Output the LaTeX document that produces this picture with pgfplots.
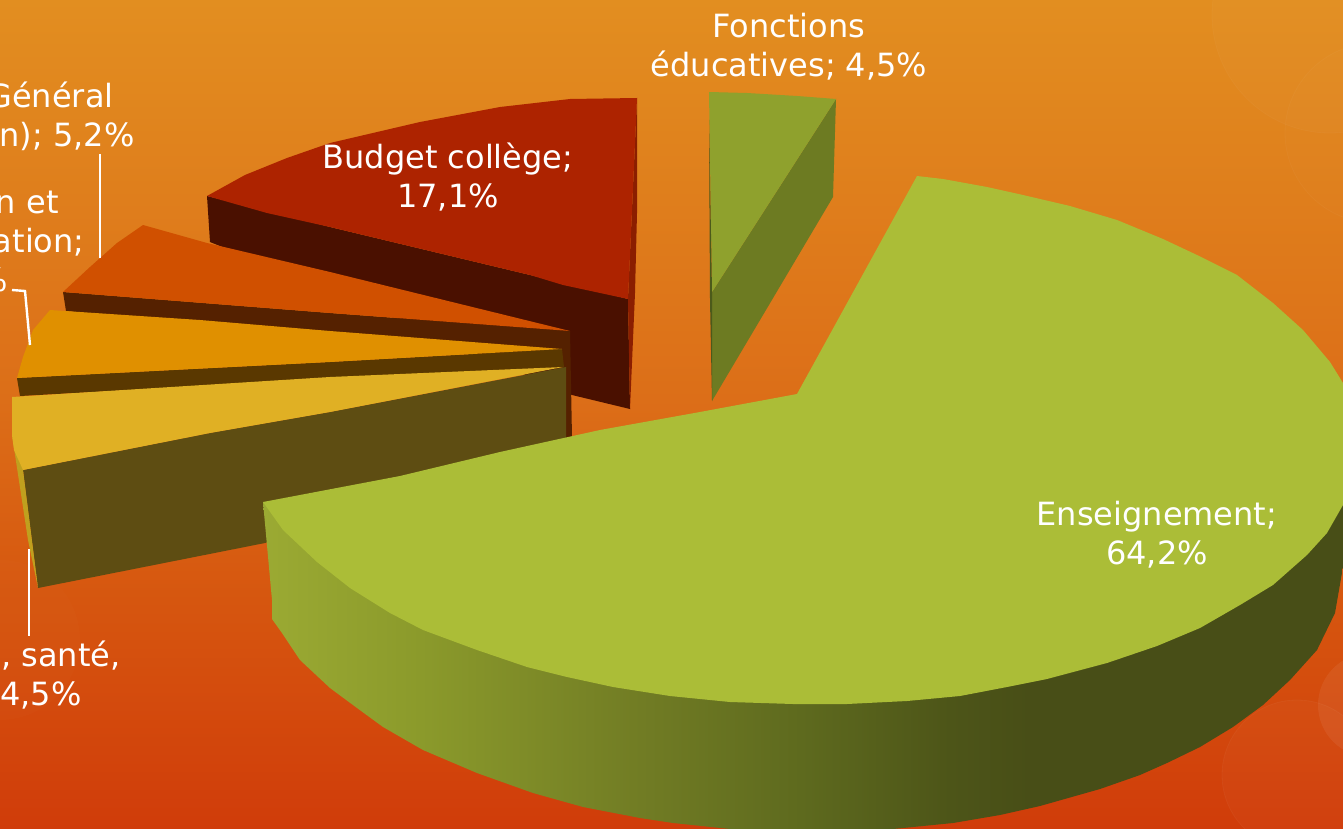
\documentclass[border=0pt]{standalone}
\usepackage{fontspec}
\setmainfont{DejaVu Sans}
\usepackage{pgfplots}
\pgfplotsset{compat=1.18}
% slide background, top to bottom
\definecolor{bgA}{HTML}{D03C0A}
\definecolor{bgB}{HTML}{D6560F}
\definecolor{bgC}{HTML}{DC6E18}
\definecolor{bgD}{HTML}{E28E20}
\pgfdeclareverticalshading{bgv}{100bp}{color(0bp)=(bgA); color(25bp)=(bgA); color(38.8bp)=(bgB); color(50.9bp)=(bgC); color(75bp)=(bgD); color(100bp)=(bgD)}
% rim of the big slice, left to right
\definecolor{rimA}{HTML}{9BAA33}
\definecolor{rimB}{HTML}{8B9A2B}
\definecolor{rimC}{HTML}{717C24}
\definecolor{rimD}{HTML}{5E6A1E}
\definecolor{rimE}{HTML}{4D5518}
\definecolor{rimF}{HTML}{484E17}
\pgfdeclarehorizontalshading{rimh}{100bp}{color(0bp)=(rimA); color(25bp)=(rimA); color(32.3bp)=(rimB); color(42.5bp)=(rimC); color(49.9bp)=(rimD); color(56.8bp)=(rimE); color(60.5bp)=(rimF); color(100bp)=(rimF)}
\tikzset{lab/.style={text=white, font=\fontsize{16}{19.5}\selectfont, align=center},
         frag/.style={text=white, font=\fontsize{16}{19.5}\selectfont, anchor=base east, inner sep=0pt}}
\begin{document}
\begin{tikzpicture}
\begin{axis}[
    name=ax,
    scale only axis, width=671.5pt, height=414.5pt,
    xmin=0, xmax=1343, ymin=0, ymax=829,
    y dir=reverse,
    hide axis,
    clip=true,
]
% background
\addplot[draw=none, shading=bgv] coordinates {(0,0)(1343,0)(1343,829)(0,829)} --cycle;
\fill[white, opacity=0.02] (axis cs:1330,15) circle[radius=59pt];
\draw[white, opacity=0.03] (axis cs:1330,15) circle[radius=59pt];
\fill[white, opacity=0.012] (axis cs:1375,133) circle[radius=45pt];
\draw[white, opacity=0.03] (axis cs:1375,133) circle[radius=45pt];
\fill[white, opacity=0.025] (axis cs:1297,775) circle[radius=37.5pt];
\draw[white, opacity=0.04] (axis cs:1297,775) circle[radius=37.5pt];
\fill[white, opacity=0.012] (axis cs:0,640) circle[radius=40pt];
\fill[white, opacity=0.06] (axis cs:1370,705) circle[radius=26pt];

% Fonctions educatives
\addplot[draw=none, fill={rgb,255:red,109;green,123;blue,34}] coordinates {(836,99)(833,197)(712,401)(712,292)} --cycle;
\addplot[draw=none, fill={rgb,255:red,143;green,161;blue,45}] coordinates {(709,92)(747,93)(797,96)(836,99)(712,292)} --cycle;
\addplot[draw=none, fill={rgb,255:red,76;green,90;blue,26}] coordinates {(709,120)(712,292)(712,401)(710,300)} --cycle;

% Budget college
\addplot[draw=none, fill={rgb,255:red,74;green,16;blue,0}] coordinates {(207,196)(330,227)(530,275)(628,299)(630,409)(572,395)(330,290)(210,242)} --cycle;
\addplot[draw=none, fill={rgb,255:red,139;green,30;blue,0}] coordinates {(637,98)(637,213)(635,293)(630,409)(628,299)} --cycle;
\addplot[draw=none, fill={rgb,255:red,173;green,35;blue,0}] coordinates {(637,98)(570,99)(500,107)(420,122)(330,143)(287,158)(245,175)(207,196)(267,213)(330,227)(530,275)(563,285)(628,299)} --cycle;

% orange slice
\addplot[draw=none, fill={rgb,255:red,85;green,33;blue,0}] coordinates {(63,292)(330,313)(530,328)(570,331)(572,438)(560,440)(555,355)(330,336)(66,311)} --cycle;
\addplot[draw=none, fill={rgb,255:red,208;green,80;blue,0}] coordinates {(143,225)(117,243)(90,267)(63,292)(330,313)(530,328)(570,331)(330,272)(207,243)} --cycle;

% amber slice
\addplot[draw=none, fill={rgb,255:red,90;green,56;blue,0}] coordinates {(17,378)(330,362)(562,349)(564,367)(330,379)(20,396)} --cycle;
\addplot[draw=none, fill={rgb,255:red,224;green,144;blue,0}] coordinates {(50,310)(33,330)(23,357)(17,378)(330,362)(562,349)(330,331)(200,320)} --cycle;

% yellow slice
\addplot[draw=none, fill={rgb,255:red,94;green,77;blue,18}] coordinates {(23,470)(210,433)(330,412)(566,367)(566,445)(265,543)(38,588)} --cycle;
\addplot[draw=none, fill={rgb,255:red,192;green,160;blue,30}] coordinates {(12,435)(23,470)(38,588)(28,540)} --cycle;
\addplot[draw=none, fill={rgb,255:red,224;green,176;blue,36}] coordinates {(12,397)(330,377)(563,367)(330,412)(210,433)(23,470)(14,450)(12,435)} --cycle;

% Enseignement, rim then top
\addplot[draw=none, shading=rimh] coordinates {(263,502)(272,600)(272,619)(282,633)(300,660)(330,688)(357,708)(383,727)(423,750)(477,773)(533,793)(583,807)(640,818)(673,823)(730,829)(893,829)(953,823)(1000,815)(1040,806)(1100,789)(1140,775)(1167,763)(1200,747)(1233,727)(1263,705)(1290,680)(1317,650)(1335,613)(1343,567)(1343,505)(1250,560)(800,640)} --cycle;
\addplot[draw=none, fill={rgb,255:red,171;green,189;blue,55}] coordinates {(797,394)(917,176)(943,179)(987,187)(1023,195)(1070,206)(1117,220)(1163,239)(1197,255)(1237,275)(1273,303)(1303,330)(1330,362)(1343,383)(1343,505)(1327,533)(1307,555)(1273,585)(1240,605)(1200,628)(1157,646)(1107,663)(1047,679)(1007,687)(960,696)(907,701)(847,704)(793,704)(730,702)(670,696)(613,687)(567,677)(527,667)(477,650)(423,630)(390,613)(350,588)(317,562)(283,530)(263,502)(400,476)(500,452)(600,430)(700,412)} --cycle;

% leader lines
\addplot[white, line width=1.2pt] coordinates {(100,154)(100,258)};
\addplot[white, line width=1.2pt] coordinates {(12,290)(25,291)(30,345)};
\addplot[white, line width=1.2pt] coordinates {(29,549)(29,636)};

% labels
\node[lab] at (axis cs:789,47) {Fonctions\\éducatives; 4,5\%};
\node[lab] at (axis cs:448,177) {Budget collège;\\17,1\%};
\node[lab] at (axis cs:1157,535) {Enseignement;\\64,2\%};
\node[frag] at (axis cs:114,108) {Général};
\node[frag] at (axis cs:135,147) {n); 5,2\%};
\node[frag] at (axis cs:59,213) {n et};
\node[frag] at (axis cs:85,252) {ation;};
\node[frag] at (axis cs:8,291) {4,5\%};
\node[frag] at (axis cs:121,666) {, santé,};
\node[frag] at (axis cs:82,705) {4,5\%};
\end{axis}
\pgfresetboundingbox
\path (ax.south west) rectangle (ax.north east);
\end{tikzpicture}
\end{document}
